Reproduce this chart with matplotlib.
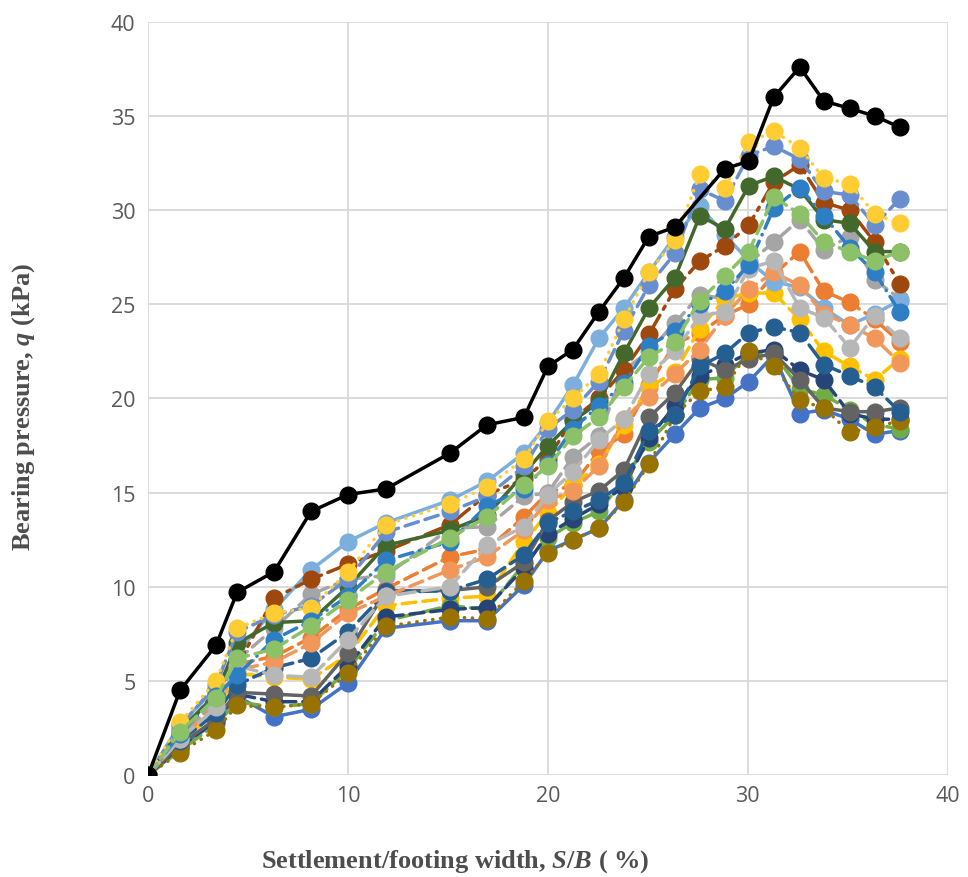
import matplotlib
matplotlib.use("Agg")
import matplotlib.pyplot as plt

plt.rcParams['mathtext.fontset'] = 'custom'
plt.rcParams['mathtext.rm'] = 'Liberation Serif:bold'
plt.rcParams['mathtext.it'] = 'Liberation Serif:bold:italic'
plt.rcParams['mathtext.bf'] = 'Liberation Serif:bold'

# settlement ratio S/B (%) at each reading
xs = [0, 1.6, 3.4, 4.45, 6.3, 8.15, 10, 11.9, 15.1, 16.95, 18.8, 20, 21.25, 22.55,
      23.8, 25.05, 26.35, 27.6, 28.85, 30.05, 31.3, 32.6, 33.8, 35.1, 36.35, 37.6]
xs_black = [0, 1.6, 3.4, 4.45, 6.3, 8.15, 10, 11.9, 15.1, 16.95, 18.8, 20, 21.25, 22.55,
            23.8, 25.05, 26.35, 28.85, 30.05, 31.3, 32.6, 33.8, 35.1, 36.35, 37.6]

q_black = [0, 4.5, 6.9, 9.7, 10.8, 14.0, 14.9, 15.2, 17.1, 18.6, 19.0, 21.7, 22.6, 24.6,
           26.4, 28.6, 29.1, 32.2, 32.6, 36.0, 37.6, 35.8, 35.4, 35.0, 34.4]

q_blue = [0, 1.4, 2.9, 4.2, 3.1, 3.5, 4.9, 7.8, 8.2, 8.2, 10.1, 11.9, 12.5, 13.1, 14.6, 16.6,
          18.1, 19.5, 20.0, 20.9, 22.3, 19.2, 19.4, 18.9, 18.1, 18.3]
q_orange = [0, 2.0, 3.9, 5.9, 6.3, 7.3, 8.8, 9.9, 11.6, 12.0, 13.7, 15.0, 15.4, 17.2, 18.1, 20.7,
            22.9, 23.5, 24.4, 25.0, 26.6, 27.8, 25.7, 25.1, 24.2, 23.0]
q_gray = [0, 2.0, 4.0, 6.1, 7.8, 9.6, 10.4, 10.6, 13.1, 13.2, 14.8, 15.0, 16.9, 18.0, 21.5, 22.5,
          24.0, 25.5, 25.3, 27.2, 28.3, 29.5, 27.9, 28.6, 26.3, 25.3]
q_gold = [0, 1.7, 3.4, 5.4, 5.2, 5.1, 6.4, 9.0, 9.4, 9.5, 12.4, 13.9, 15.4, 16.5, 18.6, 20.6,
          21.4, 23.7, 25.3, 25.6, 25.6, 24.2, 22.5, 21.7, 21.0, 22.1]
q_ltblue = [0, 2.7, 4.6, 6.5, 8.8, 10.9, 12.4, 13.4, 14.6, 15.6, 17.1, 18.7, 20.7, 23.2, 24.8, 26.7,
            28.6, 30.2, 28.7, 27.3, 26.2, 25.9, 24.8, 23.9, 24.5, 25.2]
q_green = [0, 1.3, 2.7, 3.9, 3.6, 3.8, 5.6, 8.2, 9.0, 8.8, 11.2, 12.6, 13.4, 14.0, 15.7, 17.7,
           19.1, 21.0, 21.1, 22.4, 22.4, 20.5, 20.2, 19.4, 18.6, 18.4]
q_navy = [0, 1.5, 2.9, 4.3, 3.9, 3.9, 5.8, 8.4, 8.8, 8.9, 11.0, 12.8, 13.6, 14.4, 15.3, 17.9,
          19.6, 21.2, 21.8, 22.4, 22.6, 21.5, 21.0, 19.2, 18.9, 18.9]
q_brown = [0, 2.1, 4.5, 5.8, 9.4, 10.4, 11.2, 11.9, 13.3, 14.9, 15.7, 16.8, 18.9, 20.0, 21.5, 23.4,
           25.8, 27.3, 28.1, 29.2, 31.5, 32.4, 30.4, 30.0, 28.3, 26.1]
q_dkgray = [0, 1.6, 3.0, 4.4, 4.3, 4.2, 6.5, 9.8, 9.8, 10.0, 11.3, 13.5, 14.5, 15.1, 16.2, 19.0,
            20.3, 22.1, 21.5, 22.1, 22.4, 21.0, 19.5, 19.3, 19.3, 19.5]
q_dkgold = [0, 1.2, 2.4, 3.7, 3.6, 3.8, 5.4, 7.9, 8.4, 8.3, 10.3, 11.8, 12.5, 13.1, 14.5, 16.5,
            19.1, 20.4, 20.6, 22.5, 21.7, 19.9, 19.5, 18.2, 18.5, 18.8]
q_dkblue = [0, 1.8, 3.3, 4.8, 5.7, 6.2, 7.6, 9.7, 9.8, 10.4, 11.7, 13.4, 14.0, 14.6, 15.5, 18.3,
            19.1, 21.7, 22.4, 23.5, 23.8, 23.5, 21.8, 21.2, 20.6, 19.3]
q_dkgreen = [0, 2.4, 4.3, 7.0, 8.1, 8.2, 10.0, 12.2, 13.0, 13.8, 16.0, 17.5, 18.8, 19.8, 22.4, 24.8,
             26.4, 29.7, 29.0, 31.3, 31.8, 31.1, 29.5, 29.3, 27.8, 27.8]
q_lavender = [0, 2.6, 4.8, 7.6, 8.5, 9.0, 10.4, 12.9, 14.0, 14.8, 16.4, 18.4, 19.4, 20.9, 23.6, 26.0,
              27.7, 31.1, 30.5, 32.9, 33.4, 32.7, 31.0, 30.8, 29.2, 30.6]
q_ltorange = [0, 1.9, 3.7, 5.6, 6.0, 7.0, 8.6, 9.5, 10.9, 11.6, 13.0, 14.6, 15.1, 16.4, 18.9, 20.1,
              21.3, 22.6, 24.4, 25.8, 26.7, 26.0, 24.5, 23.9, 23.2, 21.9]
q_ltgray = [0, 1.9, 3.6, 5.8, 5.3, 5.2, 7.2, 9.5, 10.0, 12.2, 13.2, 14.9, 16.1, 17.8, 18.9, 21.3,
            22.5, 24.4, 24.6, 26.9, 27.3, 24.8, 24.3, 22.7, 24.4, 23.2]
q_ltgold = [0, 2.8, 5.0, 7.8, 8.6, 8.9, 10.8, 13.3, 14.4, 15.3, 16.8, 18.8, 20.0, 21.3, 24.2, 26.7,
            28.4, 31.9, 31.2, 33.6, 34.2, 33.3, 31.7, 31.4, 29.8, 29.3]
q_medblue = [0, 2.2, 4.2, 5.3, 7.2, 8.2, 9.5, 11.4, 12.4, 14.3, 15.2, 16.5, 18.4, 19.6, 20.8, 22.8,
             23.6, 25.0, 25.7, 27.1, 30.1, 31.2, 29.7, 28.0, 26.7, 24.6]
q_ltgreen = [0, 2.3, 4.1, 6.2, 6.7, 7.9, 9.3, 10.8, 12.6, 13.7, 15.4, 16.4, 18.0, 19.0, 20.6, 22.2,
             23.0, 25.2, 26.5, 27.8, 30.7, 29.8, 28.3, 27.8, 27.3, 27.8]

series = [
    (q_blue, '#4472C4', '-'),
    (q_orange, '#ED7D31', (0, (4, 2))),
    (q_gray, '#A5A5A5', (0, (4, 2))),
    (q_gold, '#FFC000', (0, (4, 2))),
    (q_ltblue, '#7CAFDD', '-'),
    (q_green, '#70AD47', (0, (5, 2))),
    (q_navy, '#264478', (0, (4, 2))),
    (q_brown, '#9E480E', (0, (5, 2, 1, 2))),
    (q_dkgray, '#636363', '-'),
    (q_dkgold, '#997300', (0, (0.1, 2.2))),
    (q_dkblue, '#255E91', (0, (5, 2))),
    (q_dkgreen, '#43682B', '-'),
    (q_lavender, '#698ED0', (0, (4, 2))),
    (q_ltorange, '#F1975A', (0, (4, 2))),
    (q_ltgray, '#B7B7B7', (0, (5, 2))),
    (q_ltgold, '#FFCD33', (0, (0.1, 2.2))),
    (q_medblue, '#2E7EC6', (0, (4, 2, 0.1, 2))),
    (q_ltgreen, '#8CC168', (0, (4, 2))),
]

fig = plt.figure(figsize=(9.68, 8.78), dpi=100)
ax = fig.add_axes([0.153, 0.116, 0.826, 0.858])

for vals, col, ls in series:
    ax.plot(xs, vals, color=col, linestyle=ls, linewidth=2.5, marker='o',
            markersize=12, markeredgecolor=col, markerfacecolor=col,
            dash_capstyle='round', solid_capstyle='round')

ax.plot(xs_black, q_black, color='black', linewidth=2.5, marker='o',
        markersize=12, markeredgecolor='black', markerfacecolor='black')

ax.set_xlim(0, 40)
ax.set_ylim(0, 40)
ax.set_xticks(range(0, 41, 10))
ax.set_yticks(range(0, 41, 5))
ax.grid(True, color='#D9D9D9', linewidth=1.3)
ax.set_axisbelow(True)
for s in ax.spines.values():
    s.set_visible(False)
ax.tick_params(axis='x', length=0, labelsize=15.5, labelcolor='#595959', pad=7)
ax.tick_params(axis='y', length=0, labelsize=15.5, labelcolor='#595959', pad=9)
for lab in ax.get_xticklabels() + ax.get_yticklabels():
    lab.set_family('Open Sans')

fig.text(455 / 968, 1 - 862 / 878, r'Settlement/footing width, $S/B$ ( %)',
         fontfamily='Liberation Serif', fontweight='bold', fontsize=19,
         color='#4D4D4D', ha='center', va='center')
fig.text(24 / 968, 1 - 407 / 878, r'Bearing pressure, $q$ (kPa)',
         fontfamily='Liberation Serif', fontweight='bold', fontsize=19,
         color='#4D4D4D', ha='center', va='center', rotation=90)

fig.savefig('out.png', dpi=100)
